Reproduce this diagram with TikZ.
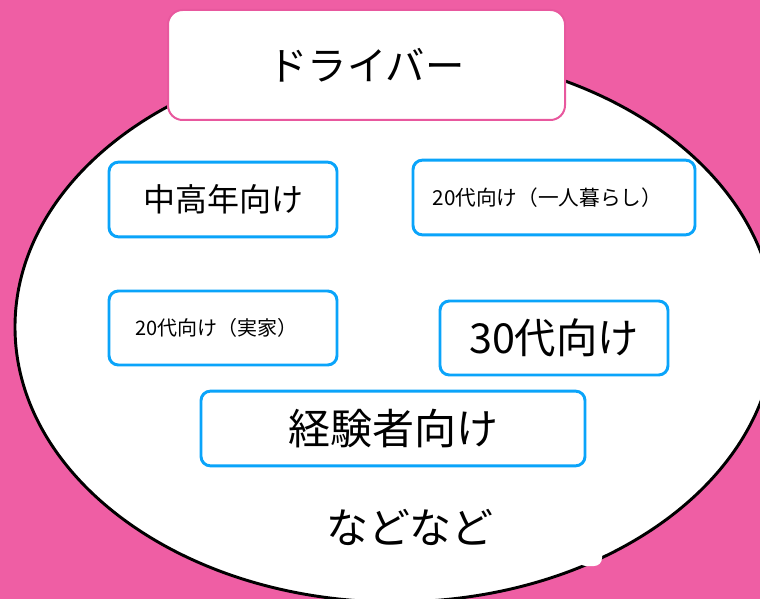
\documentclass[tikz,border=0pt]{standalone}
\usepackage{fontspec}
\setmainfont{Noto Sans CJK JP}
\definecolor{bgpink}{RGB}{239,94,164}
\definecolor{edgepink}{RGB}{232,88,158}
\definecolor{boxblue}{RGB}{10,164,250}
\begin{document}
\begin{tikzpicture}[x=0.75pt,y=-0.75pt,
  titlebox/.style={draw=edgepink,line width=1.5pt,fill=white,rounded corners=11pt,inner sep=0pt},
  groupbox/.style={draw=boxblue,line width=2.2pt,fill=white,rounded corners=7pt,inner sep=0pt},
  plain/.style={inner sep=0pt}]
\fill[bgpink] (0,0) rectangle (760,599);
\useasboundingbox (0,0) rectangle (760,599);
\begin{scope}
\clip (0,0) rectangle (760,599);
\draw[black,line width=2.2pt,fill=white] (395,327) ellipse [x radius=380, y radius=275];
\fill[white,rounded corners=6pt] (578,548) rectangle (602,566);
\end{scope}
\node[titlebox,minimum width=297.75pt,minimum height=82.5pt,font=\fontsize{29.5pt}{34pt}\selectfont] (title) at (366.5,65) {ドライバー};
\node[groupbox,minimum width=171pt,minimum height=56pt,font=\fontsize{24pt}{28pt}\selectfont] (mid) at (223,199.5) {中高年向け};
\node[groupbox,minimum width=211.5pt,minimum height=56pt,font=\fontsize{15.5pt}{18pt}\selectfont] (alone) at (554,197.5) {\hspace*{-10pt}20代向け（一人暮らし）};
\node[groupbox,minimum width=171pt,minimum height=55.5pt,font=\fontsize{15pt}{18pt}\selectfont] (home) at (223,328) {\hspace*{-10pt}20代向け（実家）};
\node[groupbox,minimum width=171pt,minimum height=55.5pt,font=\fontsize{31pt}{34pt}\selectfont] (thirty) at (554,338) {30代向け};
\node[groupbox,minimum width=288pt,minimum height=56pt,font=\fontsize{31.5pt}{34pt}\selectfont] (exp) at (393,428.5) {経験者向け};
\node[plain,font=\fontsize{31.5pt}{34pt}\selectfont] (etc) at (410,527) {などなど};
\end{tikzpicture}
\end{document}
